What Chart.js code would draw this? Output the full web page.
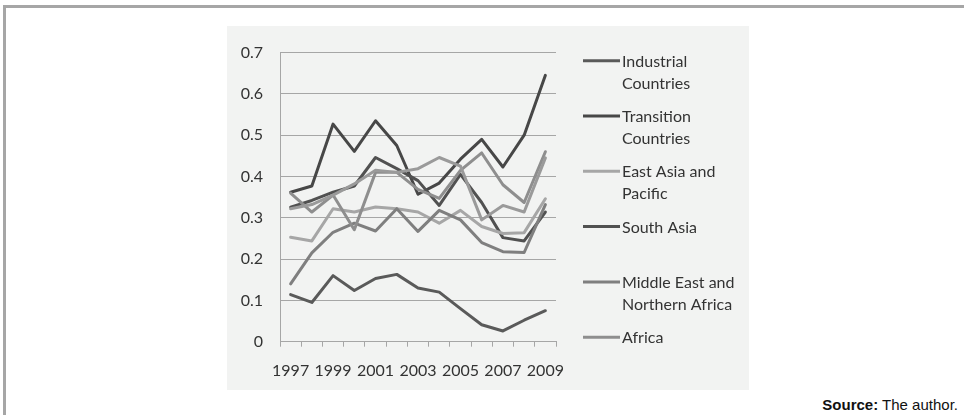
<!DOCTYPE html>
<html>
<head>
<meta charset="utf-8">
<script src="https://cdn.jsdelivr.net/npm/chart.js@4.4.1/dist/chart.umd.min.js"></script>
<style>
  html, body { margin: 0; padding: 0; background: #fff; }
  body { width: 964px; height: 415px; overflow: hidden; position: relative; }
  #frame {
    position: absolute; left: 3px; top: 5px; width: 980px; height: 430px;
    border-left: 3px solid #a6a6a6; border-top: 3px solid #a6a6a6;
  }
  #box { position: absolute; left: 227px; top: 26px; width: 522px; height: 364px; background: #f2f3f2; }
  #source {
    position: absolute; right: 6px; top: 396px;
    font-family: "Liberation Sans", Arial, sans-serif; font-size: 15px; color: #111;
  }
</style>
</head>
<body>
<div id="frame"></div>
<div id="box"><canvas id="chart" width="522" height="364"></canvas></div>
<div id="source"><b>Source:</b> The author.</div>

<script>
/* ==========================================
   DATA
========================================== */
const years = ["1997","1998","1999","2000","2001","2002","2003","2004","2005","2006","2007","2008","2009"];

const industrial = [0.114, 0.095, 0.160, 0.124, 0.153, 0.163, 0.130, 0.120, 0.080, 0.041, 0.026, 0.052, 0.075];
const transition = [0.362, 0.377, 0.527, 0.461, 0.535, 0.475, 0.357, 0.384, 0.442, 0.490, 0.423, 0.500, 0.645];
const eastAsia   = [0.253, 0.244, 0.322, 0.314, 0.326, 0.322, 0.314, 0.287, 0.318, 0.279, 0.262, 0.264, 0.346];
const southAsia  = [0.326, 0.342, 0.362, 0.377, 0.446, 0.419, 0.390, 0.330, 0.405, 0.337, 0.252, 0.244, 0.314];
const middleEast = [0.140, 0.215, 0.265, 0.287, 0.268, 0.322, 0.267, 0.318, 0.295, 0.240, 0.218, 0.216, 0.332];
const africa     = [0.360, 0.314, 0.355, 0.271, 0.410, 0.410, 0.369, 0.347, 0.415, 0.457, 0.380, 0.337, 0.460];
// seventh line in the picture, not listed in the legend
const unlisted   = [0.322, 0.332, 0.355, 0.382, 0.415, 0.410, 0.419, 0.446, 0.425, 0.295, 0.330, 0.314, 0.445];

const yTicks = [0, 0.1, 0.2, 0.3, 0.4, 0.5, 0.6, 0.7];

/* ==========================================
   COLOURS
========================================== */
const COLORS = {
  industrial: "#5a5a5a",
  transition: "#474747",
  eastAsia:   "#a6a6a6",
  southAsia:  "#515151",
  middleEast: "#7f7f7f",
  africa:     "#8e8e8e",
  unlisted:   "#9a9a9a"
};

const FONT = "Lato, 'Open Sans', sans-serif";

function serie(label, data, color) {
  return {
    label, data,
    borderColor: color,
    backgroundColor: color,
    borderWidth: 3,
    pointRadius: 0,
    tension: 0,
    borderJoinStyle: "round",
    borderCapStyle: "round",
    fill: false
  };
}

/* legend drawn by hand: labels wrap on two lines */
const legendItems = [
  { lines: ["Industrial", "Countries"], color: COLORS.industrial },
  { lines: ["Transition", "Countries"], color: COLORS.transition },
  { lines: ["East Asia and", "Pacific"], color: COLORS.eastAsia },
  { lines: ["South Asia"], color: COLORS.southAsia },
  { lines: ["Middle East and", "Northern Africa"], color: COLORS.middleEast },
  { lines: ["Africa"], color: COLORS.africa }
];

const legendPlugin = {
  id: "sideLegend",
  afterDraw(chart) {
    const ctx = chart.ctx;
    ctx.save();
    ctx.font = "16px " + FONT;
    ctx.fillStyle = "#333";
    ctx.textBaseline = "alphabetic";
    legendItems.forEach((it, i) => {
      const y = 34.7 + i * 55.3;
      ctx.strokeStyle = it.color;
      ctx.lineWidth = 3;
      ctx.beginPath();
      ctx.moveTo(356, y);
      ctx.lineTo(393, y);
      ctx.stroke();
      it.lines.forEach((t, j) => ctx.fillText(t, 395, y + 6 + j * 22));
    });
    ctx.restore();
  }
};

/* ==========================================
   CHART
========================================== */
new Chart(document.getElementById("chart"), {
  type: "line",
  data: {
    labels: years,
    datasets: [
      serie("", unlisted, COLORS.unlisted),
      serie("Africa", africa, COLORS.africa),
      serie("Middle East and Northern Africa", middleEast, COLORS.middleEast),
      serie("East Asia and Pacific", eastAsia, COLORS.eastAsia),
      serie("South Asia", southAsia, COLORS.southAsia),
      serie("Transition Countries", transition, COLORS.transition),
      serie("Industrial Countries", industrial, COLORS.industrial)
    ]
  },
  options: {
    responsive: false,
    animation: false,
    devicePixelRatio: 1,
    layout: { padding: { left: 0, top: 14, right: 193, bottom: 0 } },
    plugins: { legend: { display: false }, tooltip: { enabled: false } },
    scales: {
      x: {
        offset: true,
        grid: { offset: true, drawOnChartArea: false, tickLength: 5, color: "#a6a6a6", lineWidth: 1 },
        border: { color: "#a6a6a6", width: 1 },
        ticks: {
          autoSkip: false, maxRotation: 0, padding: 15,
          color: "#333", font: { family: FONT, size: 16 },
          callback: (v, i) => (i % 2 === 0 ? years[i] : "")
        },
        afterFit: s => { s.height = 48.3; }
      },
      y: {
        min: yTicks[0],
        max: yTicks[yTicks.length - 1],
        afterBuildTicks: s => { s.ticks = yTicks.map(v => ({ value: v })); },
        grid: { color: "#a6a6a6", lineWidth: 1, drawTicks: false },
        border: { color: "#a6a6a6", width: 1 },
        ticks: {
          padding: 17, color: "#333", font: { family: FONT, size: 16 },
          callback: v => (v === 0 ? "0" : v.toFixed(1))
        },
        afterFit: s => { s.width = 53; }
      }
    }
  },
  plugins: [legendPlugin]
});
</script>
</body>
</html>
